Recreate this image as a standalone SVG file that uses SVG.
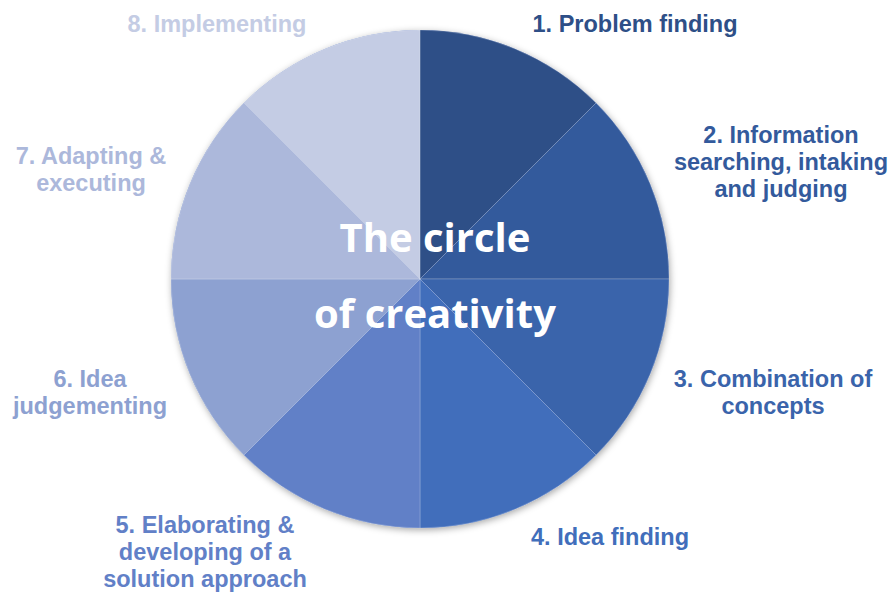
<svg xmlns="http://www.w3.org/2000/svg" width="892" height="594" viewBox="0 0 892 594">
  <defs>
    <filter id="shadow" x="-10%" y="-10%" width="120%" height="120%">
      <feDropShadow dx="1" dy="2" stdDeviation="3.5" flood-color="#000" flood-opacity="0.35"/>
    </filter>
  </defs>
  <style>
    .slice { stroke: #ffffff; stroke-opacity: 0.25; stroke-width: 0.8; }
    .lbl { font-family: "Liberation Sans", Arial, sans-serif; font-weight: bold; font-size: 23.5px; text-anchor: middle; }
    .title { font-family: "Open Sans", "DejaVu Sans", sans-serif; font-weight: bold; font-size: 40px; fill: #ffffff; text-anchor: middle; }
  </style>
  <rect width="892" height="594" fill="#ffffff"/>
  <circle cx="420" cy="279" r="249" fill="#6a85c5" filter="url(#shadow)"/>
  <g id="node1">
    <path class="slice" fill="#2E4F87" d="M420,279 L420,30 A249,249 0 0 1 596.07,102.93 Z"/>
    <text class="lbl" fill="#2E4F87" x="635" y="32">1. Problem finding</text>
  </g>
  <g id="node2">
    <path class="slice" fill="#335A9C" d="M420,279 L596.07,102.93 A249,249 0 0 1 669,279 Z"/>
    <text class="lbl" fill="#335A9C" x="781" y="143">2. Information<tspan x="781" dy="27">searching, intaking</tspan><tspan x="781" dy="27">and judging</tspan></text>
  </g>
  <g id="node3">
    <path class="slice" fill="#3A64AB" d="M420,279 L669,279 A249,249 0 0 1 596.07,455.07 Z"/>
    <text class="lbl" fill="#3A64AB" x="773" y="387">3. Combination of<tspan x="773" dy="27">concepts</tspan></text>
  </g>
  <g id="node4">
    <path class="slice" fill="#416EBB" d="M420,279 L596.07,455.07 A249,249 0 0 1 420,528 Z"/>
    <text class="lbl" fill="#416EBB" x="610" y="545">4. Idea finding</text>
  </g>
  <g id="node5">
    <path class="slice" fill="#6180C7" d="M420,279 L420,528 A249,249 0 0 1 243.93,455.07 Z"/>
    <text class="lbl" fill="#6180C7" x="205" y="533">5. Elaborating &amp;<tspan x="205" dy="27">developing of a</tspan><tspan x="205" dy="27">solution approach</tspan></text>
  </g>
  <g id="node6">
    <path class="slice" fill="#8DA1D1" d="M420,279 L243.93,455.07 A249,249 0 0 1 171,279 Z"/>
    <text class="lbl" fill="#8DA1D1" x="90" y="387">6. Idea<tspan x="90" dy="27">judgementing</tspan></text>
  </g>
  <g id="node7">
    <path class="slice" fill="#ACB8DB" d="M420,279 L171,279 A249,249 0 0 1 243.93,102.93 Z"/>
    <text class="lbl" fill="#ACB8DB" x="91" y="164">7. Adapting &amp;<tspan x="91" dy="27">executing</tspan></text>
  </g>
  <g id="node8">
    <path class="slice" fill="#C4CCE4" d="M420,279 L243.93,102.93 A249,249 0 0 1 420,30 Z"/>
    <text class="lbl" fill="#C4CCE4" x="217" y="32">8. Implementing</text>
  </g>
  <g id="center">
    <text class="title" x="435" y="252">The circle</text>
    <text class="title" x="435" y="328">of creativity</text>
  </g>
  <g id="connectors"></g>
</svg>
